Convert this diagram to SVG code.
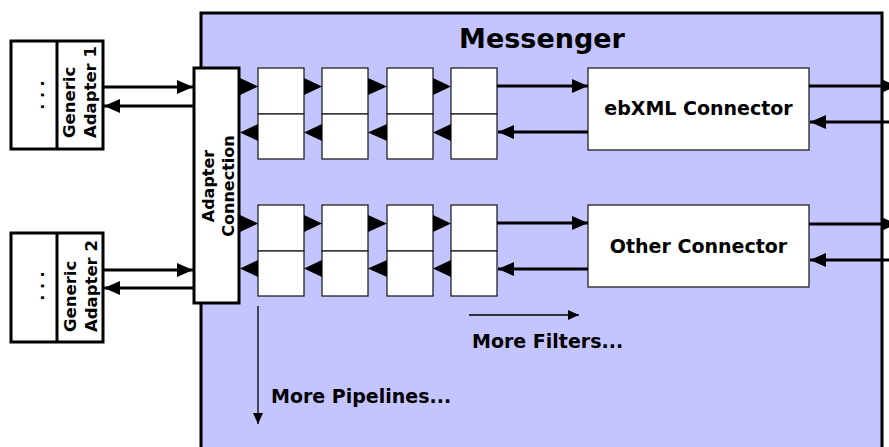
<svg xmlns="http://www.w3.org/2000/svg" width="889" height="447" viewBox="0 0 889 447">
<style>
.lbl{font-family:"DejaVu Sans","Liberation Sans",sans-serif;font-weight:bold;fill:#000}
.thick{fill:#fff;stroke:#000;stroke-width:3}
.filt{fill:#fff;stroke:#222;stroke-width:1.3}
.ln{stroke:#000;stroke-width:3;fill:none}
.thin{stroke:#000;stroke-width:1.3;fill:none}
.tri{fill:#000}
</style>
<defs>
<marker id="ah" markerUnits="userSpaceOnUse" markerWidth="17" markerHeight="15" refX="16" refY="7" orient="auto"><path d="M0,0 L16,7 L0,14 z" fill="#000"/></marker>
<marker id="as" markerUnits="userSpaceOnUse" markerWidth="12" markerHeight="11" refX="11" refY="5" orient="auto"><path d="M0,0 L11,5 L0,10 z" fill="#000"/></marker>
</defs>
<g id="messenger">
<rect x="201" y="13" width="681" height="460" fill="#c4c4ff" stroke="#000" stroke-width="3"/>
<text class="lbl" x="542" y="48" font-size="27" text-anchor="middle">Messenger</text>
</g>
<g id="adapter1">
<rect class="thick" x="11" y="41" width="92" height="108"/>
<line x1="57" y1="41" x2="57" y2="149" stroke="#000" stroke-width="3"/>
<text class="lbl" font-size="16" text-anchor="middle" transform="translate(44,95) rotate(-90)">. . .</text>
<text class="lbl" font-size="16.5" transform="translate(75,138) rotate(-90)">Generic</text>
<text class="lbl" font-size="16.5" transform="translate(96,138) rotate(-90)">Adapter 1</text>
</g>
<g id="adapter2">
<rect class="thick" x="11" y="233" width="92" height="109"/>
<line x1="57" y1="233" x2="57" y2="342" stroke="#000" stroke-width="3"/>
<text class="lbl" font-size="16" text-anchor="middle" transform="translate(44,286) rotate(-90)">. . .</text>
<text class="lbl" font-size="16.5" transform="translate(76,332) rotate(-90)">Generic</text>
<text class="lbl" font-size="16.5" transform="translate(97,332) rotate(-90)">Adapter 2</text>
</g>
<g id="adapter-connection">
<rect class="thick" x="194" y="68" width="45" height="235"/>
<text class="lbl" font-size="16" text-anchor="middle" transform="translate(214,186) rotate(-90)">Adapter</text>
<text class="lbl" font-size="16" text-anchor="middle" transform="translate(234,186) rotate(-90)">Connection</text>
</g>
<g id="pipeline1-filters">
<rect class="filt" x="258" y="68" width="46" height="46"/><rect class="filt" x="258" y="114" width="46" height="45"/>
<rect class="filt" x="322" y="68" width="46" height="46"/><rect class="filt" x="322" y="114" width="46" height="45"/>
<rect class="filt" x="387" y="68" width="46" height="46"/><rect class="filt" x="387" y="114" width="46" height="45"/>
<rect class="filt" x="451" y="68" width="46" height="46"/><rect class="filt" x="451" y="114" width="46" height="45"/>
</g>
<g id="pipeline2-filters">
<rect class="filt" x="258" y="205" width="46" height="46"/><rect class="filt" x="258" y="251" width="46" height="45"/>
<rect class="filt" x="322" y="205" width="46" height="46"/><rect class="filt" x="322" y="251" width="46" height="45"/>
<rect class="filt" x="387" y="205" width="46" height="46"/><rect class="filt" x="387" y="251" width="46" height="45"/>
<rect class="filt" x="451" y="205" width="46" height="46"/><rect class="filt" x="451" y="251" width="46" height="45"/>
</g>
<g id="ebxml-connector">
<rect x="588" y="68" width="221" height="82" fill="#fff" stroke="#222" stroke-width="1.3"/>
<text class="lbl" font-size="19" x="698.5" y="115" text-anchor="middle">ebXML Connector</text>
</g>
<g id="other-connector">
<rect x="588" y="205" width="221" height="82" fill="#fff" stroke="#222" stroke-width="1.3"/>
<text class="lbl" font-size="19" x="698.5" y="253" text-anchor="middle">Other Connector</text>
</g>
<g id="connectors">
<line class="ln" x1="103" y1="87" x2="193" y2="87" marker-end="url(#ah)"/>
<line class="ln" x1="194" y1="106" x2="104" y2="106" marker-end="url(#ah)"/>
<line class="ln" x1="103" y1="270" x2="193" y2="270" marker-end="url(#ah)"/>
<line class="ln" x1="194" y1="288" x2="104" y2="288" marker-end="url(#ah)"/>
<polygon class="tri" points="240,78 258,86.5 240,95"/>
<polygon class="tri" points="304,78 322,86.5 304,95"/>
<polygon class="tri" points="368,78 387,86.5 368,95"/>
<polygon class="tri" points="433,78 451,86.5 433,95"/>
<polygon class="tri" points="258,124 240,132.5 258,141"/>
<polygon class="tri" points="322,124 304,132.5 322,141"/>
<polygon class="tri" points="387,124 368,132.5 387,141"/>
<polygon class="tri" points="451,124 433,132.5 451,141"/>
<polygon class="tri" points="240,215 258,223.5 240,232"/>
<polygon class="tri" points="304,215 322,223.5 304,232"/>
<polygon class="tri" points="368,215 387,223.5 368,232"/>
<polygon class="tri" points="433,215 451,223.5 433,232"/>
<polygon class="tri" points="258,260 240,268.5 258,277"/>
<polygon class="tri" points="322,260 304,268.5 322,277"/>
<polygon class="tri" points="387,260 368,268.5 387,277"/>
<polygon class="tri" points="451,260 433,268.5 451,277"/>
<line class="ln" x1="497" y1="86" x2="588" y2="86" marker-end="url(#ah)"/>
<line class="ln" x1="588" y1="132" x2="498" y2="132" marker-end="url(#ah)"/>
<line class="ln" x1="497" y1="223" x2="588" y2="223" marker-end="url(#ah)"/>
<line class="ln" x1="588" y1="269" x2="498" y2="269" marker-end="url(#ah)"/>
<line class="ln" x1="809" y1="86" x2="897" y2="86" marker-end="url(#ah)"/>
<line class="ln" x1="889" y1="122" x2="810" y2="122" marker-end="url(#ah)"/>
<line class="ln" x1="809" y1="224" x2="897" y2="224" marker-end="url(#ah)"/>
<line class="ln" x1="889" y1="260" x2="810" y2="260" marker-end="url(#ah)"/>
<line class="thin" x1="469" y1="315" x2="579" y2="315" marker-end="url(#as)"/>
<line class="thin" x1="258" y1="306" x2="258" y2="424" marker-end="url(#as)"/>
</g>
<text class="lbl" font-size="19" x="472" y="348">More Filters...</text>
<text class="lbl" font-size="19" x="271" y="403">More Pipelines...</text>
</svg>
